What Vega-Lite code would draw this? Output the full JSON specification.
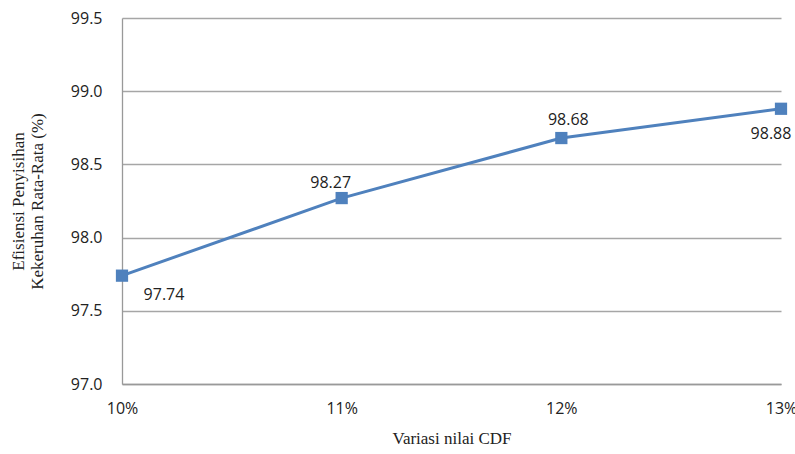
{
  "$schema": "https://vega.github.io/schema/vega-lite/v6.json",
  "autosize": "none",
  "width": 659,
  "height": 366,
  "padding": {"left": 122, "top": 18, "right": 14, "bottom": 70},
  "background": "white",
  "config": {
    "view": {"stroke": null},
    "axis": {"labelFont": "Open Sans", "labelFontSize": 16, "labelColor": "#222222", "titleFont": "Liberation Serif", "titleFontSize": 17, "titleFontWeight": "normal", "titleColor": "#222222"}
  },
  "data": {"values": [
    {"cdf": 10, "eff": 97.74},
    {"cdf": 11, "eff": 98.27},
    {"cdf": 12, "eff": 98.68},
    {"cdf": 13, "eff": 98.88}
  ]},
  "encoding": {
    "x": {"field": "cdf", "type": "quantitative", "scale": {"domain": [10, 13], "nice": false, "zero": false},
      "axis": {"values": [10, 11, 12, 13], "labelExpr": "datum.value + '%'", "grid": false, "ticks": false, "domainColor": "#999999", "domainWidth": 1.3, "labelPadding": 16, "labelFlush": false, "title": "Variasi nilai CDF", "titlePadding": 14}},
    "y": {"field": "eff", "type": "quantitative", "scale": {"domain": [97, 99.5], "nice": false, "zero": false},
      "axis": {"values": [97, 97.5, 98, 98.5, 99, 99.5], "format": ".1f", "grid": true, "gridColor": "#a6a6a6", "gridWidth": 1.3, "ticks": false, "domainColor": "#999999", "domainWidth": 1.3, "labelPadding": 20, "title": ["Efisiensi Penyisihan", "Kekeruhan Rata-Rata (%)"], "titlePadding": 24}}
  },
  "layer": [
    {"mark": {"type": "line", "color": "#4f81bd", "strokeWidth": 3}},
    {"mark": {"type": "point", "shape": "square", "filled": true, "color": "#4f81bd", "opacity": 1, "size": 150}},
    {"transform": [{"filter": "datum.cdf == 10"}], "mark": {"type": "text", "font": "Open Sans", "fontSize": 16, "color": "#222222", "dx": 42, "dy": 19}, "encoding": {"text": {"field": "eff", "format": ".2f"}}},
    {"transform": [{"filter": "datum.cdf == 11"}], "mark": {"type": "text", "font": "Open Sans", "fontSize": 16, "color": "#222222", "dx": -11, "dy": -15}, "encoding": {"text": {"field": "eff", "format": ".2f"}}},
    {"transform": [{"filter": "datum.cdf == 12"}], "mark": {"type": "text", "font": "Open Sans", "fontSize": 16, "color": "#222222", "dx": 7, "dy": -18}, "encoding": {"text": {"field": "eff", "format": ".2f"}}},
    {"transform": [{"filter": "datum.cdf == 13"}], "mark": {"type": "text", "font": "Open Sans", "fontSize": 16, "color": "#222222", "dx": -10, "dy": 25}, "encoding": {"text": {"field": "eff", "format": ".2f"}}}
  ]
}
